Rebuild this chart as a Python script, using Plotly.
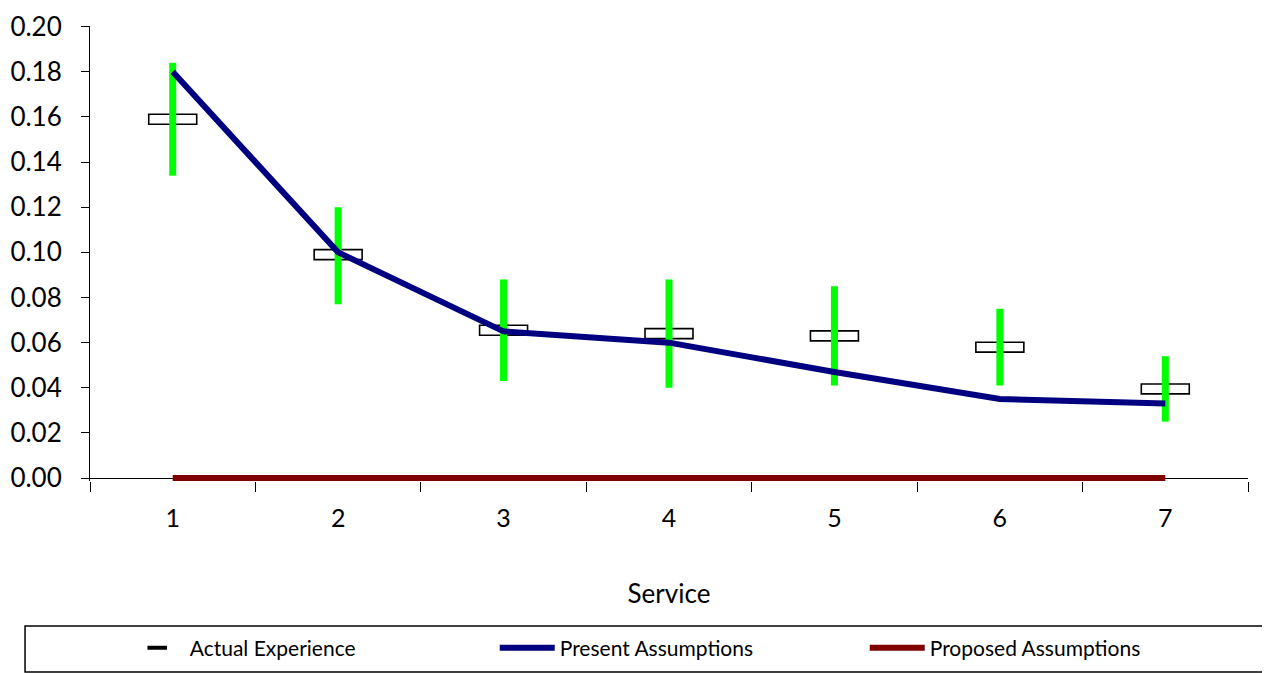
import plotly.graph_objects as go

services = ["1", "2", "3", "4", "5", "6", "7"]
actual = [0.159, 0.099, 0.0655, 0.064, 0.063, 0.058, 0.0395]
actual_high = [0.184, 0.120, 0.088, 0.088, 0.085, 0.075, 0.054]
actual_low = [0.134, 0.077, 0.043, 0.040, 0.041, 0.041, 0.025]
present = [0.180, 0.100, 0.065, 0.060, 0.047, 0.035, 0.033]
proposed = [0.0, 0.0, 0.0, 0.0, 0.0, 0.0, 0.0]
y_ticks = [0.00, 0.02, 0.04, 0.06, 0.08, 0.10, 0.12, 0.14, 0.16, 0.18, 0.20]

FONT = "Lato"
box_half = 0.0022

fig = go.Figure()

# green range bars
fig.add_trace(go.Scatter(
    x=services, y=actual, mode="markers",
    marker=dict(size=0.1, color="rgba(0,0,0,0)"),
    error_y=dict(type="data", symmetric=False,
                 array=[h - a for h, a in zip(actual_high, actual)],
                 arrayminus=[a - l for a, l in zip(actual, actual_low)],
                 color="#00ff00", thickness=7, width=0),
    showlegend=False, hoverinfo="skip",
))

# actual experience boxes
fig.add_trace(go.Bar(
    x=services, y=[2 * box_half] * len(actual),
    base=[a - box_half for a in actual],
    width=0.29,
    marker=dict(color="rgba(255,255,255,0)", line=dict(color="black", width=1.6)),
    showlegend=False,
))

fig.add_trace(go.Scatter(
    x=[None], y=[None], mode="markers", name="Actual Experience",
    marker=dict(symbol="line-ew", size=14, line=dict(color="black", width=4)),
))

fig.add_trace(go.Scatter(
    x=services, y=present, mode="lines", name="Present Assumptions",
    line=dict(color="#000080", width=6),
))

fig.add_trace(go.Scatter(
    x=services, y=proposed, mode="lines", name="Proposed Assumptions",
    line=dict(color="#800000", width=6),
))

fig.update_layout(
    width=1270, height=673,
    margin=dict(l=82, r=30, t=18, b=200, autoexpand=False),
    paper_bgcolor="white", plot_bgcolor="white",
    font=dict(family=FONT, color="black", size=24),
    barmode="overlay",
    xaxis=dict(
        type="category", tickson="boundaries", ticks="outside", ticklen=10,
        tickcolor="black", showline=False,
        showgrid=False, zeroline=False,
        tickfont=dict(size=25), ticklabelstandoff=20,
        title=dict(text="Service", font=dict(size=26), standoff=53),
    ),
    yaxis=dict(
        range=[-0.0013, 0.2003], tickvals=y_ticks, tickformat=".2f",
        ticks="outside", ticklen=8, tickcolor="black",
        showline=True, linecolor="black", linewidth=1,
        showgrid=False, zeroline=True, zerolinecolor="black", zerolinewidth=1,
        tickfont=dict(size=26), ticklabelstandoff=14,
        ticklabeloverflow="allow",
    ),
    legend=dict(
        orientation="h", x=0.030, xanchor="left", y=-0.367, yanchor="middle",
        borderwidth=0, bgcolor="rgba(0,0,0,0)",
        font=dict(size=21), entrywidth=300, entrywidthmode="pixels",
        itemwidth=55,
    ),
    shapes=[dict(
        type="rect", xref="paper", yref="paper",
        x0=-0.0561, x1=1.03, y0=-0.4198, y1=-0.3187,
        line=dict(color="black", width=1.5), fillcolor="rgba(0,0,0,0)",
    )],
)

fig.write_html("out.html")
